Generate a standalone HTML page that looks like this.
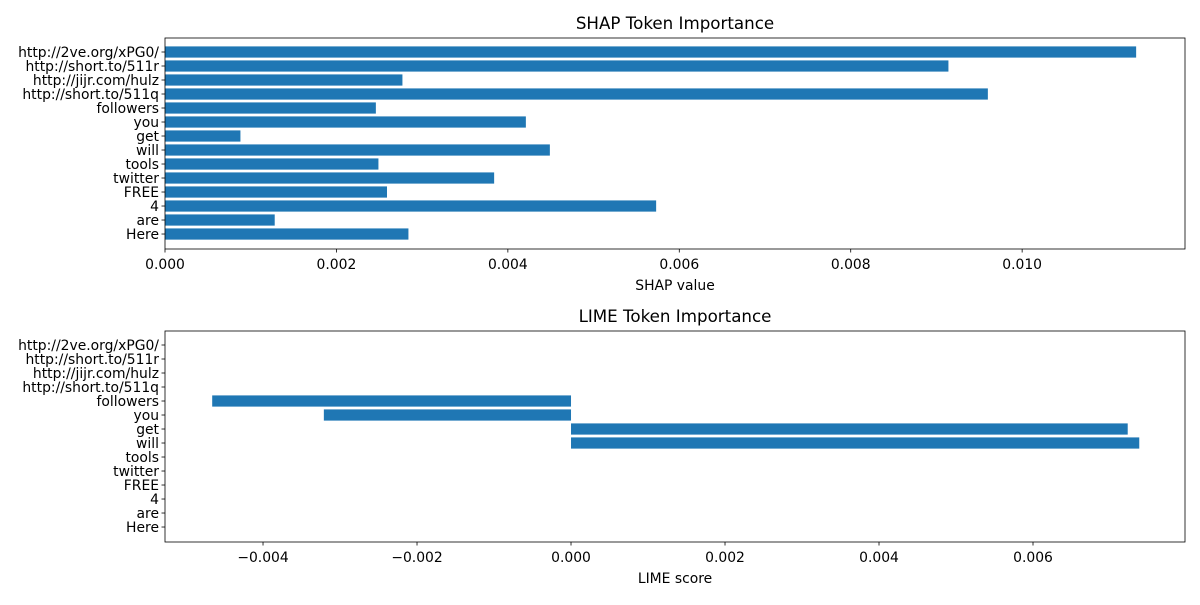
<!DOCTYPE html>
<html><head><meta charset="utf-8"><style>
body{margin:0;background:#fff;font-family:"Liberation Sans","DejaVu Sans",sans-serif}
svg text{font-family:"DejaVu Sans","Liberation Sans",sans-serif;fill:#000}
</style></head><body>
<svg id="c" width="1200" height="600" xmlns="http://www.w3.org/2000/svg"></svg>
<script>
const categories=["http://2ve.org/xPG0/","http://short.to/511r","http://jijr.com/hulz","http://short.to/511q","followers","you","get","will","tools","twitter","FREE","4","are","Here"];
const shapValues=[0.01133,0.00914,0.00277,0.0096,0.00246,0.00421,0.00088,0.00449,0.00249,0.00384,0.00259,0.00573,0.00128,0.00284];
const limeValues=[0,0,0,0,-0.00466,-0.00321,0.00723,0.00738,0,0,0,0,0,0];
const shapTicks=[0,0.002,0.004,0.006,0.008,0.010];
const shapTickLabels=["0.000","0.002","0.004","0.006","0.008","0.010"];
const limeTicks=[-0.004,-0.002,0,0.002,0.004,0.006];
const limeTickLabels=["\u22120.004","\u22120.002","0.000","0.002","0.004","0.006"];
const svg=document.getElementById('c');
const NS="http://www.w3.org/2000/svg";
function mk(t,a,p){const e=document.createElementNS(NS,t);for(const k in a)e.setAttribute(k,a[k]);(p||svg).appendChild(e);return e;}
function panel(o){
  const g=mk('g',{});
  
  
  const L=165,R=1185,T=o.top,B=o.top+211;
  const x=v=>L+(v-o.min)/(o.max-o.min)*(R-L);
  const n=categories.length,step=(B-T)/(n-1+2.07);
  const y=i=>T+1.0*step+i*step;
  categories.forEach((c,i)=>{
    const v=o.vals[i];
    const r=mk('rect',{x:Math.min(x(0),x(v)),y:y(i)-0.4*step,width:Math.abs(x(v)-x(0)),height:0.8*step,fill:'#1f77b4'},g);
    
    
    mk('line',{x1:L-3.5,x2:L,y1:y(i),y2:y(i),stroke:'#000','stroke-width':0.8},g);
    const t=mk('text',{x:L-6,y:y(i)+5,'text-anchor':'end','font-size':13.9},g);t.textContent=c;
    
    
  });
  o.ticks.forEach((v,i)=>{
    mk('line',{x1:x(v),x2:x(v),y1:B,y2:B+3.5,stroke:'#000','stroke-width':0.8},g);
    const t=mk('text',{x:x(v),y:B+20,'text-anchor':'middle','font-size':13.9},g);t.textContent=o.labels[i];
    
    
  });
  mk('rect',{x:L,y:T,width:R-L,height:B-T,fill:'none',stroke:'#000','stroke-width':0.8},g);
  const ti=mk('text',{x:(L+R)/2,y:T-9,'text-anchor':'middle','font-size':16.7},g);ti.textContent=o.title;
  
  
  const xl=mk('text',{x:(L+R)/2,y:B+41,'text-anchor':'middle','font-size':13.9},g);xl.textContent=o.xlabel;
  
  
}
panel({name:'shap-panel',top:38,vals:shapValues,min:0,max:0.0119,ticks:shapTicks,labels:shapTickLabels,title:'SHAP Token Importance',xlabel:'SHAP value'});
panel({name:'lime-panel',top:331,vals:limeValues,min:-0.005273,max:0.007974,ticks:limeTicks,labels:limeTickLabels,title:'LIME Token Importance',xlabel:'LIME score'});
</script>
</body></html>
